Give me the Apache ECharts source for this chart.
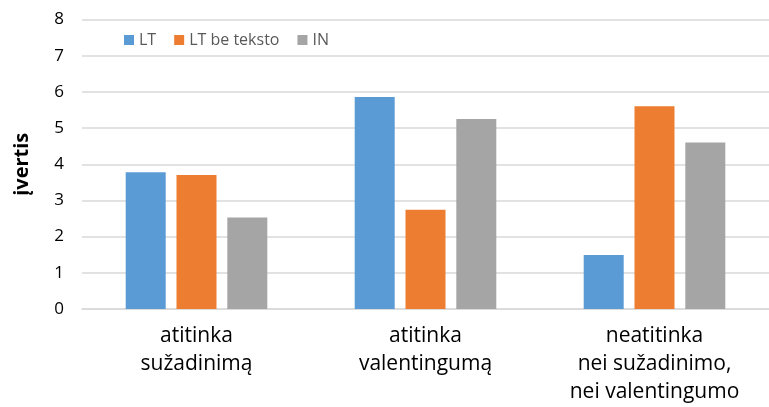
<!DOCTYPE html>
<html>
<head>
<meta charset="utf-8">
<script src="https://cdn.jsdelivr.net/npm/echarts@6/dist/echarts.min.js"></script>
<style>
  html, body { margin: 0; padding: 0; background: #fff; }
  #main { width: 769px; height: 407px; }
</style>
</head>
<body>
<div id="main"></div>
<script>
const categories = ['atitinka\nsužadinimą', 'atitinka\nvalentingumą', 'neatitinka\nnei sužadinimo,\nnei valentingumo'];
const seriesNames = ['LT', 'LT be teksto', 'IN'];
const ltValues = [3.78, 5.86, 1.49];
const ltNoTextValues = [3.70, 2.74, 5.60];
const inValues = [2.53, 5.25, 4.60];
const colors = ['#5b9bd5', '#ed7d31', '#a5a5a5'];

const font = "'Open Sans', 'Noto Sans', sans-serif";
const chart = echarts.init(document.getElementById('main'), null, { renderer: 'canvas' });

const makeSeries = (name, data, color) => ({
  name,
  type: 'bar',
  data,
  barWidth: 40,
  barGap: '27%',
  itemStyle: { color },
  emphasis: { disabled: true }
});

chart.setOption({
  animation: false,
  color: colors,
  textStyle: { fontFamily: font },
  grid: { left: 82, top: 19.5, width: 692, height: 289.5 },
  legend: {
    left: 119,
    top: 27,
    icon: 'rect',
    itemWidth: 10,
    itemHeight: 10,
    itemGap: 18,
    textStyle: { color: '#595959', fontSize: 16, fontFamily: font },
    data: seriesNames
  },
  xAxis: {
    type: 'category',
    data: categories,
    axisLine: { lineStyle: { color: '#d9d9d9', width: 1.5 } },
    axisTick: { show: false },
    axisLabel: {
      color: '#000',
      fontSize: 21,
      lineHeight: 28,
      margin: 13,
      fontFamily: font
    }
  },
  yAxis: {
    type: 'value',
    min: 0,
    max: 8,
    interval: 1,
    name: 'įvertis',
    nameLocation: 'middle',
    nameGap: 50,
    nameTextStyle: { color: '#000', fontSize: 20, fontWeight: 'bold', fontFamily: font },
    axisLine: { show: false },
    axisTick: { show: false },
    axisLabel: { color: '#000', fontSize: 17, margin: 18, fontFamily: font },
    splitLine: { lineStyle: { color: '#d9d9d9', width: 1.5 } }
  },
  series: [
    makeSeries(seriesNames[0], ltValues, colors[0]),
    makeSeries(seriesNames[1], ltNoTextValues, colors[1]),
    makeSeries(seriesNames[2], inValues, colors[2])
  ]
});
</script>
</body>
</html>
